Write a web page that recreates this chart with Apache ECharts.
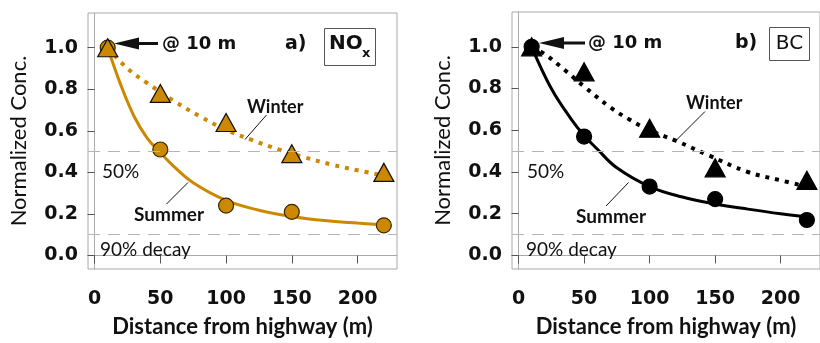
<!DOCTYPE html>
<html>
<head>
<meta charset="utf-8">
<script src="https://cdn.jsdelivr.net/npm/echarts@6/dist/echarts.min.js"></script>
<style>
  html, body { margin: 0; padding: 0; background: #fff; }
  #chart { width: 820px; height: 343px; }
</style>
</head>
<body>
<div id="chart"></div>
<script>
// 测量点 (距离, 归一化浓度)
var distance = [10, 50, 100, 150, 220];
var noxSummer = [1.0, 0.51, 0.24, 0.21, 0.145];
var noxWinter = [1.0, 0.78, 0.64, 0.49, 0.40];
var bcSummer = [1.0, 0.57, 0.33, 0.27, 0.17];
var bcWinter = [1.0, 0.88, 0.61, 0.42, 0.36];

// 拟合曲线
var noxSummerFit = [[10, 1.0], [20, 0.82], [30, 0.67], [40, 0.565], [50, 0.495], [60, 0.43], [75, 0.35], [100, 0.265], [125, 0.218], [150, 0.188], [175, 0.168], [200, 0.156], [220, 0.148]];
var noxWinterFit = [[10, 1.0], [25, 0.9], [40, 0.83], [60, 0.745], [80, 0.67], [100, 0.605], [120, 0.555], [140, 0.51], [160, 0.472], [180, 0.438], [200, 0.41], [220, 0.385]];
var bcSummerFit = [[10, 1.0], [25, 0.8], [40, 0.655], [50, 0.575], [60, 0.51], [75, 0.42], [100, 0.33], [125, 0.28], [150, 0.247], [175, 0.222], [200, 0.2], [220, 0.186]];
var bcWinterFit = [[10, 1.0], [20, 0.965], [35, 0.89], [50, 0.81], [70, 0.71], [85, 0.65], [100, 0.6], [120, 0.55], [145, 0.48], [175, 0.4], [200, 0.36], [220, 0.33]];

var xTicks = [0, 50, 100, 150, 200];
var yTicks = [0, 0.2, 0.4, 0.6, 0.8, 1.0];
var refLines = [0.5, 0.1];

var ORANGE = '#cc8800';
var chart = echarts.init(document.getElementById('chart'));

function pairs(ys) {
    return distance.map(function (d, i) { return [d, ys[i]]; });
}

function xAxisFor(idx) {
    return {
        type: 'value', gridIndex: idx, min: -5, max: 230,
        name: 'Distance from highway (m)', nameLocation: 'middle', nameGap: 47,
        nameTextStyle: { fontFamily: 'Lato', fontWeight: 'bold', fontSize: 22, color: '#111' },
        axisLine: { show: true, lineStyle: { color: '#aaa', width: 1 } },
        axisTick: { show: true, customValues: xTicks, length: 8, lineStyle: { color: '#555' } },
        axisLabel: { customValues: xTicks, margin: 21, color: '#111', fontFamily: 'DejaVu Sans', fontWeight: 'bold', fontSize: 19 },
        splitLine: { show: false }
    };
}

function yAxisFor(idx) {
    return {
        type: 'value', gridIndex: idx, min: -0.065, max: 1.167,
        name: 'Normalized Conc.', nameLocation: 'middle', nameGap: 58,
        nameTextStyle: { fontFamily: 'Lato', fontSize: 22, color: '#111' },
        axisLine: { show: true, lineStyle: { color: '#aaa', width: 1 } },
        axisTick: { show: true, customValues: yTicks, length: 7, lineStyle: { color: '#555' } },
        axisLabel: {
            customValues: yTicks, margin: 10, color: '#111', fontFamily: 'DejaVu Sans', fontWeight: 'bold', fontSize: 19,
            formatter: function (v) { return v.toFixed(1); }
        },
        splitLine: { show: false }
    };
}

function fitLine(idx, data, color, dotted) {
    return {
        type: 'line', xAxisIndex: idx, yAxisIndex: idx, data: data, smooth: 0.4,
        showSymbol: false, symbol: 'none', z: 2, silent: true,
        lineStyle: dotted ? { color: color, width: 4, type: [4, 6] } : { color: color, width: 3 },
        markLine: dotted ? undefined : {
            silent: true, symbol: 'none', label: { show: false },
            lineStyle: { color: '#b5b5b5', width: 1, type: [12, 8] },
            data: refLines.map(function (v) { return { yAxis: v }; })
        }
    };
}

function points(idx, data, color, border, shape) {
    return {
        type: 'scatter', xAxisIndex: idx, yAxisIndex: idx, data: pairs(data), z: 3,
        symbol: shape, symbolSize: shape === 'triangle' ? [20, 18] : 15,
        itemStyle: { color: color, borderColor: border, borderWidth: 1.2, opacity: 1 }
    };
}

function txt(x, y, s, font, align) {
    return { type: 'text', x: x, y: y, z: 10, style: { text: s, font: font, fill: '#111', align: align || 'left', verticalAlign: 'middle' } };
}
function seg(x1, y1, x2, y2, w) {
    return { type: 'line', z: 10, shape: { x1: x1, y1: y1, x2: x2, y2: y2 }, style: { stroke: '#111', lineWidth: w || 1 } };
}
function arrow(tip, end, y) {
    return [
        seg(tip + 22, y, end, y, 3),
        { type: 'polygon', z: 10, shape: { points: [[tip, y], [tip + 25, y - 6], [tip + 25, y + 6]] }, style: { fill: '#111' } }
    ];
}

var boldFont = 'bold 18px "DejaVu Sans"';
var labFont = 'bold 18px Lato';
var regFont = '19px Lato';

var graphics = [
    // 左图标注
    txt(162, 44, '@ 10 m', boldFont),
    txt(285, 44, 'a)', 'bold 19px "DejaVu Sans"'),
    { type: 'rect', z: 10, shape: { x: 324.5, y: 28.5, width: 51, height: 37 }, style: { fill: '#fff', stroke: '#555', lineWidth: 1 } },
    txt(329, 44, 'NO', 'bold 20px "DejaVu Sans"'),
    txt(362, 54, 'x', 'bold 13px "DejaVu Sans"'),
    txt(247, 107, 'Winter', labFont),
    seg(266.5, 115, 245, 139.5),
    txt(134, 215, 'Summer', 'bold 19px Lato'),
    seg(166.5, 204, 188, 182.5),
    txt(102, 172, '50%', regFont),
    txt(100, 250, '90% decay', regFont),
    // 右图标注
    txt(588, 43, '@ 10 m', boldFont),
    txt(735, 43, 'b)', 'bold 19px "DejaVu Sans"'),
    { type: 'rect', z: 10, shape: { x: 769.5, y: 27.5, width: 40, height: 33 }, style: { fill: '#fff', stroke: '#555', lineWidth: 1 } },
    txt(789.5, 44, 'BC', '20px "DejaVu Sans"', 'center'),
    txt(686, 103, 'Winter', labFont),
    seg(705, 111.5, 675, 141.5),
    txt(576, 217, 'Summer', 'bold 19px Lato'),
    seg(606, 206, 628.5, 182.5),
    txt(527, 172, '50%', regFont),
    txt(526, 250, '90% decay', regFont)
].concat(arrow(114, 158, 43.5)).concat(arrow(539, 585, 43));

var option = {
    animation: false,
    backgroundColor: '#fff',
    grid: [
        { left: 88, top: 13, width: 309, height: 260, show: true, borderColor: '#aaa', borderWidth: 1 },
        { left: 512, top: 12, width: 313, height: 261, show: true, borderColor: '#aaa', borderWidth: 1 }
    ],
    xAxis: [xAxisFor(0), xAxisFor(1)],
    yAxis: [yAxisFor(0), yAxisFor(1)],
    series: [
        fitLine(0, noxSummerFit, ORANGE, false),
        fitLine(0, noxWinterFit, ORANGE, true),
        points(0, noxSummer, ORANGE, '#3a2800', 'circle'),
        points(0, noxWinter, ORANGE, '#111', 'triangle'),
        fitLine(1, bcSummerFit, '#000', false),
        fitLine(1, bcWinterFit, '#000', true),
        points(1, bcSummer, '#000', '#000', 'circle'),
        points(1, bcWinter, '#000', '#000', 'triangle')
    ],
    graphic: graphics
};

chart.setOption(option);
</script>
</body>
</html>
